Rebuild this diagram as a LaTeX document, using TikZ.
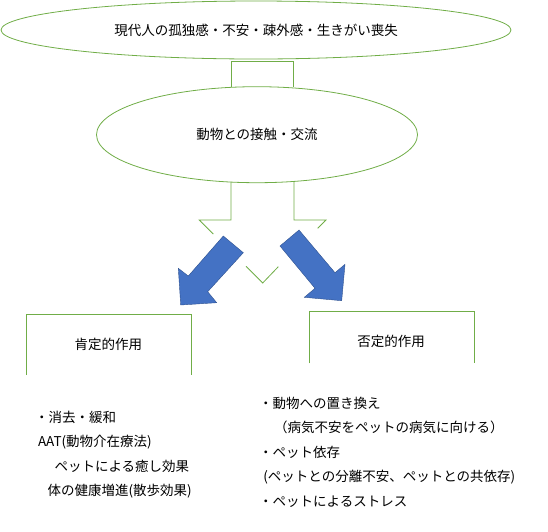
\documentclass[tikz,border=0pt]{standalone}
\usepackage{fontspec}
\newfontfamily\jp{Noto Sans CJK JP}
\usetikzlibrary{shapes.geometric}
\definecolor{lgreen}{HTML}{70AD47}
\definecolor{ablue}{HTML}{4472C4}
\definecolor{ablueline}{HTML}{2F528F}
\begin{document}
\begin{tikzpicture}[x=1pt,y=-1pt,
  gline/.style={draw=lgreen, line width=0.8pt, line join=miter},
  oval/.style={ellipse, draw=lgreen, line width=0.8pt, inner sep=0pt,
    font=\jp\fontsize{13.5}{16}\selectfont, text=black},
  lbl/.style={font=\jp\fontsize{13.5}{16}\selectfont, text=black, inner sep=0pt},
  item/.style={lbl, anchor=west},
  bluearrow/.style={fill=ablue, draw=ablueline, line width=0.4pt, line join=miter}]
\useasboundingbox (0,0) rectangle (548,531);

% ellipses
\node[oval, minimum width=510pt, minimum height=58pt] (top) at (256,30)
  {現代人の孤独感・不安・疎外感・生きがい喪失};
\node[oval, minimum width=321pt, minimum height=96pt] (mid) at (257,134.7)
  {動物との接触・交流};

% connector between ellipses
\coordinate (c1) at (231,87.3);
\coordinate (c2) at (231,61.7);
\coordinate (c3) at (293,61.7);
\coordinate (c4) at (293,87.3);
\draw[gline] (c1) -- (c2) -- (c3) -- (c4);

% green split arrow outline (visible parts)
\coordinate (s1) at (231,182.1);
\coordinate (s2) at (231,220);
\coordinate (s3) at (199.3,220);
\coordinate (s4) at (213.3,234);
\coordinate (v1) at (246,266.3);
\coordinate (v2) at (262.7,283);
\coordinate (v3) at (278.3,266.7);
\coordinate (r1) at (317.7,228.3);
\coordinate (r2) at (326,220);
\coordinate (r3) at (294,220);
\coordinate (r4) at (294,182.1);
\draw[gline] (s1) -- (s2) -- (s3) -- (s4);
\draw[gline] (v1) -- (v2) -- (v3);
\draw[gline] (r1) -- (r2) -- (r3) -- (r4);

% blue arrows
\draw[bluearrow] (223.3,236) -- (243.3,252.7) -- (207.7,291.7) -- (216.7,302.7)
  -- (180.7,305) -- (178.3,268.3) -- (188.3,276) -- cycle;
\draw[bluearrow] (299,230) -- (280,246) -- (315,288.3) -- (304.3,297.3)
  -- (341.7,300.7) -- (345,264.3) -- (335,272.7) -- cycle;

% boxes (open at bottom)
\node[lbl] (pos) at (108.3,344) {肯定的作用};
\node[lbl] (neg) at (391,341.7) {否定的作用};
\draw[gline] (26,375) -- (26,314.3) -- (191.7,314.3) -- (191.7,375);
\draw[gline] (309.3,363.3) -- (309.3,311.7) -- (474.3,311.7) -- (474.3,363.3);

% left list
\node[item] (l1) at (35,417.3) {・消去・緩和};
\node[item] (l2) at (37.8,441.8) {AAT(動物介在療法)};
\node[item] (l3) at (54.3,466.3) {ペットによる癒し効果};
\node[item] (l4) at (47.3,490.8) {体の健康増進(散歩効果)};

% right list
\node[item] (r1t) at (259,403.3) {・動物への置き換え};
\node[item] (r2t) at (274,427.8) {（病気不安をペットの病気に向ける）};
\node[item] (r3t) at (259,452.3) {・ペット依存};
\node[item] (r4t) at (263.2,476.8) {(ペットとの分離不安、ペットとの共依存)};
\node[item] (r5t) at (259,501.3) {・ペットによるストレス};
\end{tikzpicture}
\end{document}
